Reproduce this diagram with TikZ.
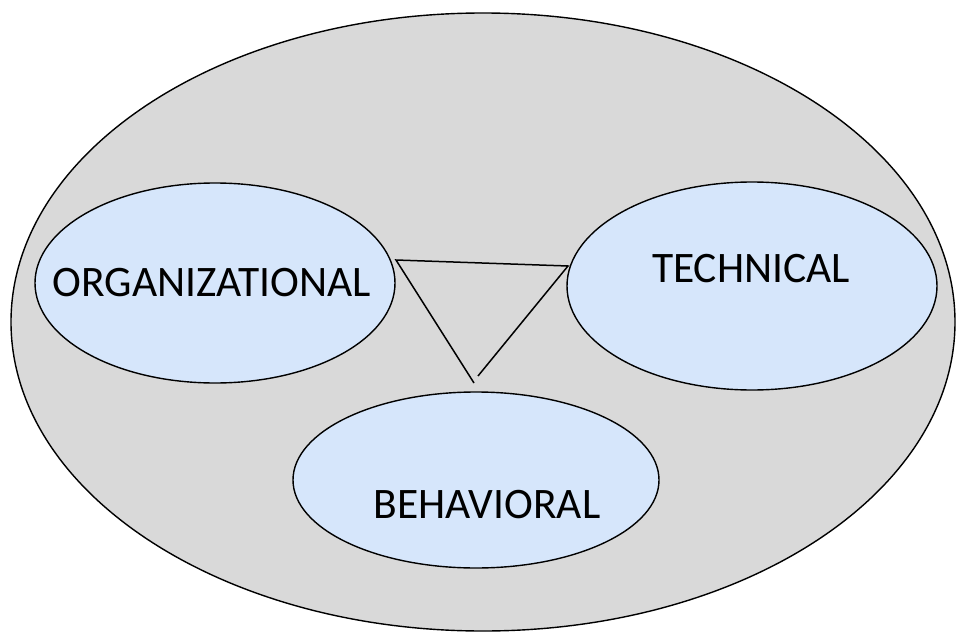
\documentclass[tikz,border=0pt]{standalone}
\usepackage{fontspec}
\setmainfont{Carlito}
\usetikzlibrary{shapes.geometric}
\definecolor{outergray}{HTML}{D9D9D9}
\definecolor{innerblue}{HTML}{D6E6FB}
\tikzset{
  blob/.style={ellipse, draw=black, line width=1.4pt, fill=innerblue, inner sep=0pt},
  lbl/.style={font=\fontsize{43.5}{43.5}\selectfont, inner sep=0pt, anchor=center},
  tri/.style={draw=black, line width=1.5pt}
}
\begin{document}
\begin{tikzpicture}[x=1pt,y=-1pt]
\useasboundingbox (0,0) rectangle (956,634);
\node[ellipse, draw=black, line width=1.4pt, fill=outergray, minimum width=944pt, minimum height=618pt, inner sep=0pt] (outer) at (483,322) {};
\node[blob, minimum width=360pt, minimum height=200pt] (org) at (215,283) {};
\node[blob, minimum width=370pt, minimum height=208pt] (tech) at (752,286) {};
\node[blob, minimum width=366pt, minimum height=176pt] (beh) at (476,480) {};
\node[lbl] (orgt) at (212,283) {ORGANIZATIONAL};
\node[lbl] (techt) at (751,269) {TECHNICAL};
\node[lbl] (beht) at (487,505) {BEHAVIORAL};
\coordinate (ta) at (396,260);
\coordinate (tb) at (568,266);
\coordinate (tc) at (474,383);
\coordinate (td) at (478,376);
\draw[tri] (tc) -- (ta) -- (tb) -- (td);
\end{tikzpicture}
\end{document}
